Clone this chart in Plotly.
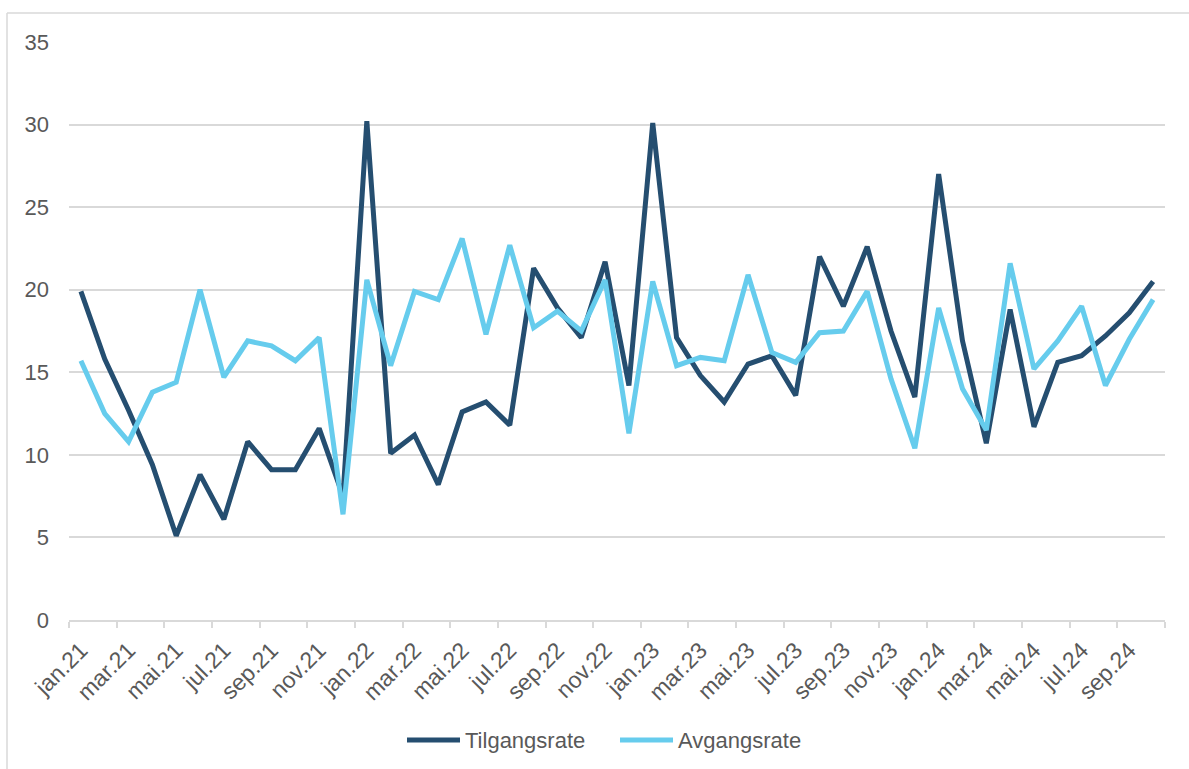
import plotly.graph_objects as go

months = ["jan", "feb", "mar", "apr", "mai", "jun", "jul", "aug", "sep", "okt", "nov", "des"]
categories = [f"{m}.{y}" for y in ["21", "22", "23", "24"] for m in months][:46]

tilgangsrate = [19.9, 15.8, 12.7, 9.4, 5.1, 8.8, 6.1, 10.8, 9.1, 9.1, 11.6, 7.5, 30.2, 10.1, 11.2, 8.2,
                12.6, 13.2, 11.8, 21.3, 18.9, 17.1, 21.7, 14.2, 30.1, 17.1, 14.8, 13.2, 15.5, 16.0, 13.6,
                22.0, 19.0, 22.6, 17.5, 13.5, 27.0, 16.9, 10.7, 18.8, 11.7, 15.6, 16.0, 17.2, 18.6, 20.5]
avgangsrate = [15.7, 12.5, 10.8, 13.8, 14.4, 20.0, 14.7, 16.9, 16.6, 15.7, 17.1, 6.4, 20.6, 15.4, 19.9, 19.4,
               23.1, 17.3, 22.7, 17.7, 18.7, 17.5, 20.6, 11.3, 20.5, 15.4, 15.9, 15.7, 20.9, 16.2, 15.6,
               17.4, 17.5, 19.9, 14.6, 10.4, 18.9, 14.0, 11.5, 21.6, 15.2, 16.9, 19.0, 14.2, 17.0, 19.4]
series_names = ["Tilgangsrate", "Avgangsrate"]
y_ticks = [0, 5, 10, 15, 20, 25, 30, 35]

DARK = "#254E70"
LIGHT = "#66CCED"
GRID = "#D9D9D9"
TXT = "#595959"
FONT = "Liberation Sans, Arial, sans-serif"

idx = list(range(len(categories)))
fig = go.Figure()
fig.add_trace(go.Scatter(x=idx, y=tilgangsrate, name=series_names[0], mode="lines",
                         line=dict(color=DARK, width=5), showlegend=False))
fig.add_trace(go.Scatter(x=idx, y=avgangsrate, name=series_names[1], mode="lines",
                         line=dict(color=LIGHT, width=5), showlegend=False))

W, H = 1189, 769
L, R, T, B = 69, 24, 42, 149
pw, ph = W - L - R, H - T - B

def px(x):
    return (x - L) / pw

def py(y):
    return (H - B - y) / ph

fig.update_layout(
    width=W, height=H,
    margin=dict(l=L, r=R, t=T, b=B),
    paper_bgcolor="white", plot_bgcolor="white",
    font=dict(family=FONT, size=22, color=TXT),
    xaxis=dict(
        range=[-0.5, len(categories) - 0.5],
        tickmode="array", tickvals=idx[::2], ticktext=categories[::2],
        tickangle=-45, ticks="", showgrid=False,
        showline=True, linecolor=GRID, linewidth=1.5,
        ticklabelstandoff=6,
        tickfont=dict(family=FONT, size=23, color=TXT),
        minor=dict(tickmode="array", tickvals=[i - 0.5 for i in range(0, len(categories) + 1, 2)],
                   ticks="outside", ticklen=6, tickcolor=GRID, tickwidth=1.5, showgrid=False),
        zeroline=False,
    ),
    yaxis=dict(
        range=[0, 35], tickmode="array", tickvals=y_ticks,
        showgrid=True, gridcolor=GRID, gridwidth=1.5,
        zeroline=False, showline=False, ticks="",
        ticklabelstandoff=19,
        tickfont=dict(family=FONT, size=22, color=TXT),
    ),
)

# chart frame (top and left edges visible)
shapes = [
    dict(type="line", xref="paper", yref="paper", x0=px(7), x1=px(1200), y0=py(13), y1=py(13),
         line=dict(color=GRID, width=1.5)),
    dict(type="line", xref="paper", yref="paper", x0=px(7), x1=px(7), y0=py(13), y1=py(780),
         line=dict(color=GRID, width=1.5)),
]
# custom legend
leg_y = py(740)
legend_items = [(series_names[0], DARK, 407, 460, 463), (series_names[1], LIGHT, 620, 673, 676)]
annotations = []
for name, col, x0, x1, xt in legend_items:
    shapes.append(dict(type="line", xref="paper", yref="paper", x0=px(x0), x1=px(x1), y0=leg_y, y1=leg_y,
                       line=dict(color=col, width=5)))
    annotations.append(dict(xref="paper", yref="paper", x=px(xt), y=leg_y, text=name, showarrow=False,
                            xanchor="left", yanchor="middle", font=dict(family=FONT, size=22, color=TXT)))
fig.update_layout(shapes=shapes, annotations=annotations)

fig.write_html("out.html", config={"displayModeBar": False},
               post_script="document.body.style.margin='0';document.body.style.overflow='hidden';")
